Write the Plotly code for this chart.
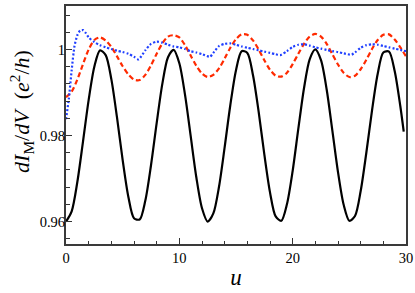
import plotly.graph_objects as go

# Black solid curve
u_black = [0, 0.5, 1, 1.5, 2, 2.5, 3, 3.5, 4, 4.5, 5, 5.5, 6, 6.5, 7, 7.5, 8, 8.5, 9, 9.5,
           10, 10.5, 11, 11.5, 12, 12.5, 13, 13.5, 14, 14.5, 15, 15.5, 16, 16.5, 17, 17.5,
           18, 18.5, 19, 19.5, 20, 20.5, 21, 21.5, 22, 22.5, 23, 23.5, 24, 24.5, 25, 25.5,
           26, 26.5, 27, 27.5, 28, 28.5, 29, 29.5, 29.8]
g_black = [0.9600, 0.9624, 0.9692, 0.9786, 0.9883, 0.9960, 0.9998, 0.9987, 0.9931, 0.9842,
           0.9743, 0.9658, 0.9608, 0.9605, 0.9649, 0.9731, 0.9829, 0.9920, 0.9982, 0.9999,
           0.9968, 0.9895, 0.9799, 0.9703, 0.9631, 0.9600, 0.9619, 0.9681, 0.9773, 0.9871,
           0.9952, 0.9996, 0.9992, 0.9940, 0.9855, 0.9756, 0.9668, 0.9612, 0.9602, 0.9641,
           0.9718, 0.9816, 0.9910, 0.9977, 1.0000, 0.9975, 0.9907, 0.9812, 0.9715, 0.9639,
           0.9602, 0.9613, 0.9671, 0.9760, 0.9858, 0.9943, 0.9993, 0.9995, 0.9950, 0.9868,
           0.9809]

# Red dashed curve
u_red = [0, 0.5, 1, 1.5, 2, 2.5, 3, 3.5, 4, 4.5, 5, 5.5, 6, 6.5, 7, 7.5, 8, 8.5, 9, 9.5,
         10, 10.5, 11, 11.5, 12, 12.5, 13, 13.5, 14, 14.5, 15, 15.5, 16, 16.5, 17, 17.5,
         18, 18.5, 19, 19.5, 20, 20.5, 21, 21.5, 22, 22.5, 23, 23.5, 24, 24.5, 25, 25.5,
         26, 26.5, 27, 27.5, 28, 28.5, 29, 29.5, 30]
g_red = [0.9889, 0.9902, 0.9930, 0.9966, 1.0000, 1.0022, 1.0028, 1.0021, 1.0006, 0.9984,
         0.9961, 0.9942, 0.9930, 0.9929, 0.9941, 0.9963, 0.9990, 1.0014, 1.0030, 1.0033,
         1.0028, 1.0010, 0.9986, 0.9962, 0.9944, 0.9936, 0.9941, 0.9956, 0.9979, 1.0004,
         1.0024, 1.0035, 1.0034, 1.0021, 1.0000, 0.9975, 0.9953, 0.9939, 0.9937, 0.9946,
         0.9966, 0.9990, 1.0013, 1.0030, 1.0036, 1.0030, 1.0013, 0.9989, 0.9965, 0.9946,
         0.9936, 0.9939, 0.9954, 0.9976, 1.0001, 1.0022, 1.0034, 1.0035, 1.0023, 1.0005,
         0.9984]

# Blue dotted curve
u_blue = [0, 0.25, 0.5, 0.75, 1.0, 1.25, 1.5, 1.75, 2.0, 2.5, 3.0, 3.5, 4.0, 4.5, 5.0, 5.5,
          6.0, 6.4, 7.0, 7.5, 8.0, 8.5, 9.0, 9.5, 10.0, 10.5, 11.0, 11.5, 12.0, 12.7, 13.0,
          13.5, 14.0, 14.5, 15.0, 15.5, 16.0, 16.5, 17.0, 17.5, 18.0, 18.5, 18.9, 19.5, 20.0,
          20.5, 21.0, 21.5, 22.0, 22.5, 23.0, 23.5, 24.0, 24.5, 25.2, 25.5, 26.0, 26.5, 27.0,
          27.5, 28.0, 28.5, 29.0, 29.5, 30.0]
g_blue = [0.9838, 0.9885, 0.9952, 1.0008, 1.0033, 1.0044, 1.0045, 1.0038, 1.0028, 1.0017,
          1.0010, 1.0005, 1.0001, 0.9997, 0.9994, 0.9990, 0.9983, 0.9977, 0.9998, 1.0013,
          1.0018, 1.0016, 1.0011, 1.0007, 1.0005, 1.0001, 0.9996, 0.9993, 0.9989, 0.9983,
          0.9992, 1.0008, 1.0013, 1.0014, 1.0011, 1.0007, 1.0004, 1.0001, 0.9998, 0.9995,
          0.9992, 0.9989, 0.9987, 0.9996, 1.0006, 1.0011, 1.0012, 1.0009, 1.0005, 1.0002,
          0.9999, 0.9996, 0.9994, 0.9991, 0.9988, 0.9993, 1.0004, 1.0010, 1.0012, 1.0011,
          1.0008, 1.0005, 1.0002, 0.9999, 0.9996]

x_ticks = [0, 10, 20, 30]
y_ticks = [0.96, 0.98, 1.0]
y_tick_labels = ["0.96", "0.98", "1"]
y_title = "<i>dI</i><sub>M</sub>/<i>dV</i>&nbsp;&nbsp;(<i>e</i><sup>2</sup>/<i>h</i>)"
x_title = "<i>u</i>"

FONT = "Liberation Serif"

fig = go.Figure()
fig.add_trace(go.Scatter(x=u_black, y=g_black, mode="lines",
                         line=dict(color="black", width=2.2, shape="spline", smoothing=0.8)))
fig.add_trace(go.Scatter(x=u_red, y=g_red, mode="lines",
                         line=dict(color="#ff2a00", width=2.2, dash="5px,3px",
                                   shape="spline", smoothing=0.8)))
fig.add_trace(go.Scatter(x=u_blue, y=g_blue, mode="lines",
                         line=dict(color="#1f3fff", width=2.2, dash="2px,2px",
                                   shape="spline", smoothing=0.6)))

fig.update_layout(
    width=415, height=293,
    margin=dict(l=66, r=9, t=6, b=49, autoexpand=False),
    paper_bgcolor="white", plot_bgcolor="white",
    showlegend=False,
    font=dict(family=FONT, size=14.5, color="black"),
)
fig.update_xaxes(
    range=[0, 30], tickvals=x_ticks, ticktext=[str(v) for v in x_ticks],
    ticks="inside", ticklen=6, tickwidth=1.3, tickcolor="#333",
    minor=dict(dtick=2, ticks="inside", ticklen=3.5, tickwidth=1.1, tickcolor="#333"),
    showline=True, linecolor="#3a3a3a", linewidth=2, mirror=True,
    showgrid=False, zeroline=False, automargin=False,
    title=dict(text=x_title, font=dict(family=FONT, size=23), standoff=3),
    tickfont=dict(family=FONT, size=14.5),
)
fig.update_yaxes(
    range=[0.9548, 1.0101], tickvals=y_ticks, ticktext=y_tick_labels,
    ticks="inside", ticklen=6, tickwidth=1.3, tickcolor="#333",
    minor=dict(dtick=0.004, tick0=0.96, ticks="inside", ticklen=3.5, tickwidth=1.1, tickcolor="#333"),
    showline=True, linecolor="#3a3a3a", linewidth=2, mirror=True,
    showgrid=False, zeroline=False, automargin=False,
    ticklabelstandoff=-4,
    tickfont=dict(family=FONT, size=14.5),
)
fig.add_annotation(
    text=y_title, textangle=-90, showarrow=False,
    xref="paper", yref="paper", x=0, y=0.555, xshift=-44,
    xanchor="center", yanchor="middle",
    font=dict(family=FONT, size=22, color="black"),
)

fig.write_html("out.html", post_script="document.body.style.margin='0';",
               config={"displayModeBar": False})
